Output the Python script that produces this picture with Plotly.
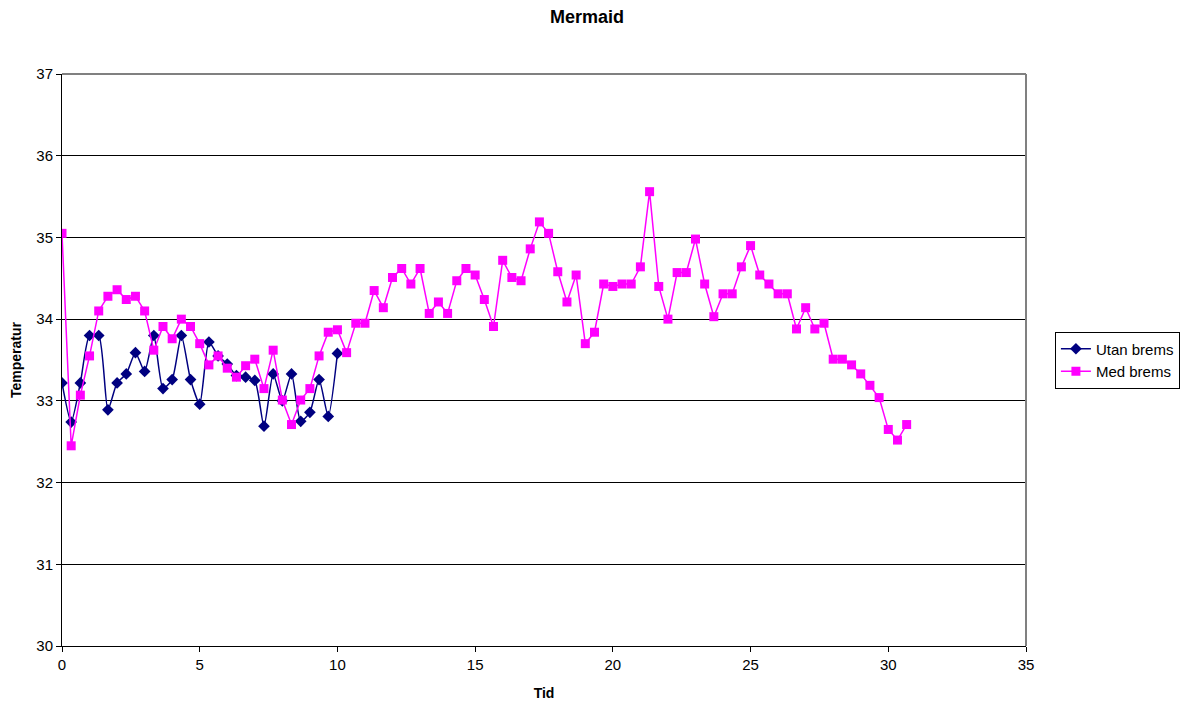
import plotly.graph_objects as go

# Sampling times (every 20 s, in minutes)
tid_med = [i / 3 for i in range(93)]
tid_utan = [i / 3 for i in range(31)]

utan_brems = [33.22, 32.74, 33.22, 33.80, 33.80, 32.89, 33.22, 33.33, 33.59, 33.36,
              33.80, 33.15, 33.26, 33.80, 33.26, 32.96, 33.72, 33.55, 33.45, 33.31,
              33.29, 33.25, 32.69, 33.33, 33.00, 33.33, 32.75, 32.86, 33.26, 32.81,
              33.58]

med_brems = [35.05, 32.45, 33.07, 33.55, 34.10, 34.28, 34.36, 34.24, 34.28, 34.10,
             33.62, 33.91, 33.76, 34.00, 33.91, 33.70, 33.44, 33.55, 33.40, 33.29,
             33.43, 33.51, 33.15, 33.62, 33.01, 32.71, 33.01, 33.15, 33.55, 33.84,
             33.87, 33.59, 33.95, 33.95, 34.35, 34.14, 34.51, 34.62, 34.43, 34.62,
             34.07, 34.21, 34.07, 34.47, 34.62, 34.54, 34.24, 33.91, 34.72, 34.51,
             34.47, 34.86, 35.19, 35.05, 34.58, 34.21, 34.54, 33.70, 33.84, 34.43,
             34.40, 34.43, 34.43, 34.64, 35.56, 34.40, 34.00, 34.57, 34.57, 34.98,
             34.43, 34.03, 34.31, 34.31, 34.64, 34.90, 34.54, 34.43, 34.31, 34.31,
             33.88, 34.14, 33.88, 33.95, 33.51, 33.51, 33.44, 33.33, 33.19, 33.04,
             32.65, 32.52, 32.71]

font_family = "Liberation Sans, Arial, sans-serif"

fig = go.Figure()
fig.add_trace(go.Scatter(
    x=tid_utan, y=utan_brems, name="Utan brems", mode="lines+markers",
    line=dict(color="#000080", width=1.5, shape="spline", smoothing=0.6),
    marker=dict(symbol="diamond", size=9, color="#000080"),
))
fig.add_trace(go.Scatter(
    x=tid_med, y=med_brems, name="Med brems", mode="lines+markers",
    line=dict(color="#FF00FF", width=1.5),
    marker=dict(symbol="square", size=9, color="#FF00FF"),
))

fig.update_layout(
    width=1193, height=709,
    margin=dict(l=54, r=175, t=66, b=71),
    paper_bgcolor="white", plot_bgcolor="white",
    font=dict(family=font_family, size=15, color="black"),
    title=dict(text="<b>Mermaid</b>", x=579 / 1193, xanchor="center",
               y=1 - 9 / 709, yanchor="middle",
               font=dict(family=font_family, size=18, color="black")),
    showlegend=True,
    legend=dict(x=1.03, y=0.5, xanchor="left", yanchor="middle",
                bordercolor="black", borderwidth=1, bgcolor="white",
                font=dict(family=font_family, size=15, color="black"),
                tracegroupgap=2, itemwidth=30),
    xaxis=dict(range=[0, 35], dtick=5, tick0=0, showgrid=False, zeroline=False,
               showline=True, linecolor="black", linewidth=1,
               ticks="outside", ticklen=5, tickcolor="black",
               tickfont=dict(size=15), automargin=False,
               title=dict(text="<b>Tid</b>", standoff=16,
                          font=dict(family=font_family, size=14))),
    yaxis=dict(range=[30, 37], dtick=1, tick0=30, showgrid=True,
               gridcolor="black", gridwidth=1, zeroline=False,
               showline=True, linecolor="black", linewidth=1,
               ticks="outside", ticklen=5, tickcolor="black",
               tickfont=dict(size=15), automargin=False,
               title=dict(text="<b>Temperatur</b>", standoff=12,
                          font=dict(family=font_family, size=14))),
    shapes=[
        dict(type="line", xref="paper", yref="paper", x0=0, x1=1, y0=1, y1=1,
             line=dict(color="#808080", width=2)),
        dict(type="line", xref="paper", yref="paper", x0=1, x1=1, y0=0, y1=1,
             line=dict(color="#808080", width=2)),
    ],
)

fig.write_html("out.html")
